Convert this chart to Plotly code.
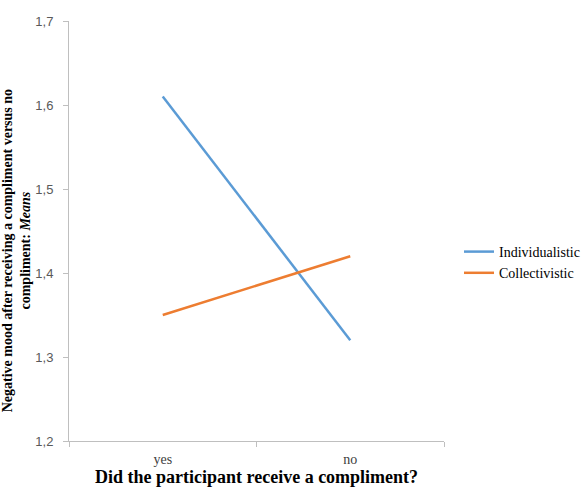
import plotly.graph_objects as go

categories = ["yes", "no"]
individualistic = [1.61, 1.32]
collectivistic = [1.35, 1.42]
series_names = ["Individualistic", "Collectivistic"]
x_title = "<b>Did the participant receive a compliment?</b>"
y_title = "<b>Negative mood after receiving a compliment versus no<br>compliment: <i>Means</i></b>"

fig = go.Figure()
fig.add_trace(go.Scatter(x=categories, y=individualistic, mode="lines", name=series_names[0],
                         line=dict(color="#5B9BD5", width=2.5)))
fig.add_trace(go.Scatter(x=categories, y=collectivistic, mode="lines", name=series_names[1],
                         line=dict(color="#ED7D31", width=2.5)))

fig.update_layout(
    width=588, height=488,
    margin=dict(l=69, r=144, t=21, b=47, autoexpand=False),
    paper_bgcolor="white", plot_bgcolor="white",
    separators=",.",
    showlegend=True,
    legend=dict(x=1.04, y=0.425, xanchor="left", yanchor="middle",
                font=dict(family="Liberation Serif", size=14, color="black"),
                tracegroupgap=2, itemwidth=30),
    xaxis=dict(type="category", range=[-0.5, 1.5], tickson="boundaries",
               automargin=False,
               showline=True, linecolor="#BFBFBF", linewidth=1,
               ticks="outside", ticklen=5, tickcolor="#BFBFBF",
               showgrid=False, zeroline=False, ticklabelstandoff=5,
               tickfont=dict(family="Liberation Serif", size=14, color="#404040")),
    yaxis=dict(range=[1.2, 1.7], dtick=0.1, tick0=1.2, tickformat=".1f",
               automargin=False,
               showline=True, linecolor="#BFBFBF", linewidth=1,
               ticks="outside", ticklen=5, tickcolor="#BFBFBF",
               showgrid=False, zeroline=False, ticklabelstandoff=7,
               tickfont=dict(family="Liberation Sans", size=13, color="#595959")),
    annotations=[
        dict(text=x_title, xref="paper", yref="paper", x=0.5, y=-0.0857,
             xanchor="center", yanchor="middle", showarrow=False,
             font=dict(family="Liberation Serif", size=18, color="black")),
        dict(text=y_title, xref="paper", yref="paper", x=-0.141, y=0.452,
             xanchor="center", yanchor="middle", showarrow=False, textangle=-90,
             font=dict(family="Liberation Serif", size=14, color="black")),
    ],
)

fig.write_html("out.html")
